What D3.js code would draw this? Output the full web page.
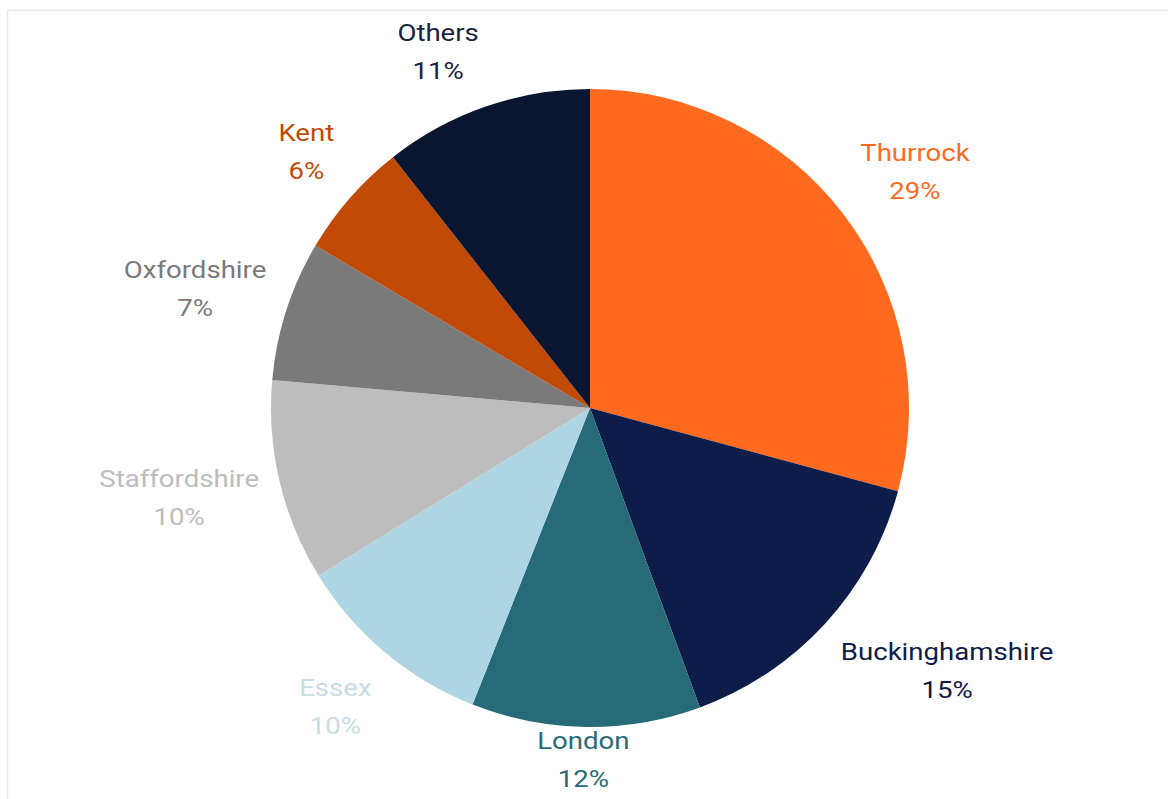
<!DOCTYPE html>
<html>
<head>
<meta charset="utf-8">
<script src="https://cdn.jsdelivr.net/npm/d3@7"></script>
<style>
  html, body { margin: 0; padding: 0; background: #ffffff; }
  svg { display: block; }
  text { font-family: Roboto, "Noto Sans", sans-serif; }
</style>
</head>
<body>
<svg id="chart" width="1168" height="799"></svg>
<script>
const categories = ["Thurrock", "Buckinghamshire", "London", "Essex", "Staffordshire", "Oxfordshire", "Kent", "Others"];
const shares = [29.2, 15.2, 11.6, 10.2, 10.2, 7.1, 5.9, 10.6];
const sliceColors = ["#FF6A1F", "#0E1C4A", "#276B78", "#ADD5E3", "#BDBDBD", "#7A7A7A", "#C14A06", "#0A1630"];
const labelColors = ["#FF6A1F", "#0E1C4A", "#276B78", "#C8DCE5", "#BDBDBD", "#7A7A7A", "#C14A06", "#1A2440"];

const W = 1168, H = 799;
const cx = 590, cy = 408, R = 319;
const svg = d3.select("#chart");

// frame
svg.append("rect").attr("x", 7.5).attr("y", 10.5).attr("width", W).attr("height", H)
  .attr("fill", "#ffffff").attr("stroke", "#e8e8e8").attr("stroke-width", 1.5);

const data = categories.map((c, i) => ({ name: c, value: shares[i], i }));
const pie = d3.pie().value(d => d.value).sort(null);
const arcs = pie(data);
const arc = d3.arc().innerRadius(0).outerRadius(R);

const g = svg.append("g").attr("transform", `translate(${cx},${cy})`);
g.selectAll("path.slice").data(arcs).join("path")
  .attr("class", "slice")
  .attr("d", arc)
  .attr("fill", d => sliceColors[d.data.i]);

// labels
const fontSize = 23, lineGap = 38, stretch = 1.2;
const total = d3.sum(shares);
const lg = svg.append("g");
arcs.forEach(a => {
  const wrap = lg.append("g");
  const t = wrap.append("text")
    .attr("text-anchor", "middle")
    .attr("font-size", fontSize)
    .attr("fill", labelColors[a.data.i]);
  t.append("tspan").attr("x", 0).attr("dy", 0).text(a.data.name);
  t.append("tspan").attr("x", 0).attr("dy", lineGap).text(Math.round(a.data.value / total * 100) + "%");
  const bb = t.node().getBBox();
  const hw = bb.width * stretch / 2, hh = 38;
  const mid = (a.startAngle + a.endAngle) / 2;
  const s = Math.sin(mid), c = Math.cos(mid);
  const r0 = R + 21;
  const ax = cx + r0 * s, ay = cy - r0 * c;
  let mx = ax + hw * Math.max(-1, Math.min(1, s * 4));
  let my = ay - hh * Math.max(-1, Math.min(1, c * 1.3));
  // keep inside chart area
  if (my + hh > H - 1) my = H - 1 - hh;
  if (my - hh < 14) my = 14 + hh;
  wrap.attr("transform", `translate(${mx},${my - lineGap / 2 + fontSize * 0.36}) scale(${stretch},1)`);
});
</script>
</body>
</html>
